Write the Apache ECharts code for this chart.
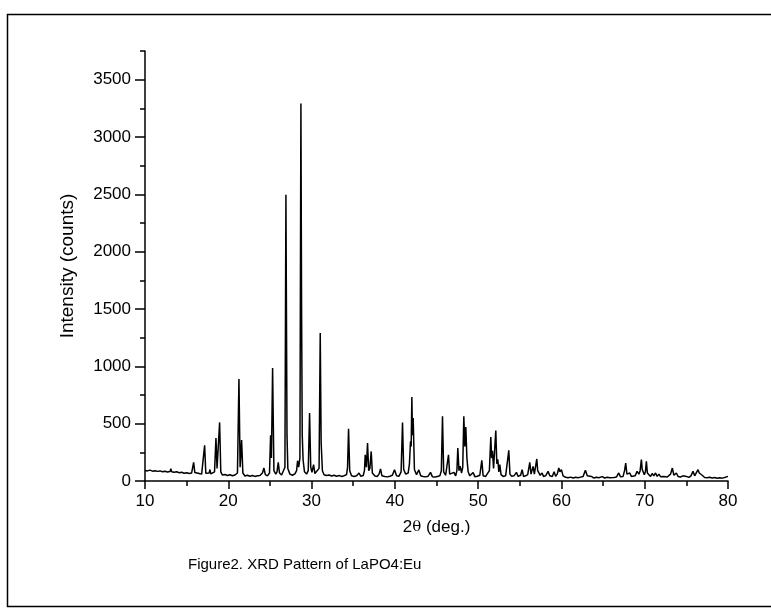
<!DOCTYPE html>
<html>
<head>
<meta charset="utf-8">
<script src="https://cdn.jsdelivr.net/npm/echarts@6/dist/echarts.min.js"></script>
<style>html,body{margin:0;padding:0;background:#fff}#c{width:771px;height:615px}</style>
</head>
<body>
<div id="c"></div>
<script>
// XRD pattern: [2theta (deg), intensity (counts)]
const xrdPattern = [
[10.0,92],[10.3,88],[10.6,95],[10.9,86],[11.2,90],[11.5,84],[11.8,88],[12.1,80],[12.4,85],[12.7,78],
[13.0,82],[13.1,108],[13.2,80],[13.5,76],[13.8,80],[14.1,72],[14.4,76],[14.7,68],[15.0,72],[15.3,66],
[15.6,70],[15.7,80],[15.84,163],[15.98,75],[16.2,62],[16.5,66],[16.8,60],[17.0,70],[17.16,311],[17.3,68],
[17.5,56],[17.7,70],[17.8,100],[17.9,62],[18.1,58],[18.35,80],[18.52,375],[18.65,110],[18.8,120],[18.96,511],
[19.1,80],[19.3,52],[19.6,56],[19.9,48],[20.2,54],[20.5,46],[20.8,52],[21.1,70],[21.28,889],[21.42,120],
[21.6,357],[21.75,70],[22.0,44],[22.3,50],[22.6,42],[22.9,48],[23.2,40],[23.5,46],[23.8,48],[24.1,70],
[24.28,113],[24.45,55],[24.7,45],[24.95,70],[25.08,398],[25.18,200],[25.32,985],[25.48,90],[25.7,60],[25.85,80],
[26.0,163],[26.15,70],[26.4,52],[26.6,58],[26.8,120],[26.92,2497],[27.05,400],[27.15,110],[27.4,60],[27.7,50],
[28.0,62],[28.2,90],[28.32,177],[28.45,120],[28.6,200],[28.72,3293],[28.8,1500],[28.88,400],[28.98,185],[29.15,80],
[29.4,60],[29.6,90],[29.76,593],[29.9,120],[30.05,75],[30.24,142],[30.4,65],[30.6,60],[30.9,110],[31.04,1291],
[31.15,334],[31.3,90],[31.5,55],[31.8,48],[32.1,52],[32.4,44],[32.7,50],[33.0,42],[33.3,48],[33.6,40],
[33.9,46],[34.2,56],[34.32,120],[34.44,456],[34.58,90],[34.8,45],[35.1,40],[35.4,46],[35.7,70],[35.9,42],
[36.2,48],[36.35,90],[36.44,229],[36.58,120],[36.72,331],[36.86,90],[37.0,110],[37.16,258],[37.3,70],[37.6,44],
[37.9,40],[38.1,60],[38.28,105],[38.45,45],[38.8,40],[39.1,36],[39.4,42],[39.7,50],[39.96,99],[40.2,45],
[40.5,42],[40.75,80],[40.92,511],[41.06,100],[41.3,60],[41.6,70],[41.75,150],[41.88,346],[41.96,300],[42.04,732],
[42.12,400],[42.2,549],[42.35,100],[42.6,55],[42.88,97],[43.1,45],[43.4,40],[43.7,36],[44.0,42],[44.28,75],
[44.5,38],[44.8,34],[45.1,40],[45.4,45],[45.58,90],[45.72,564],[45.86,80],[46.1,50],[46.3,60],[46.44,229],
[46.58,60],[46.8,45],[47.1,75],[47.3,45],[47.45,90],[47.56,288],[47.7,90],[47.84,130],[48.0,70],[48.15,120],
[48.28,564],[48.4,300],[48.52,471],[48.65,200],[48.8,80],[49.0,45],[49.2,40],[49.4,75],[49.6,38],[49.9,42],
[50.2,50],[50.44,180],[50.6,45],[50.9,40],[51.1,48],[51.35,90],[51.52,383],[51.62,200],[51.72,264],[51.85,110],
[52.0,120],[52.12,441],[52.24,150],[52.36,190],[52.48,80],[52.6,143],[52.75,55],[53.0,40],[53.3,45],[53.5,60],
[53.68,267],[53.82,60],[54.0,42],[54.3,45],[54.6,75],[54.8,40],[55.1,50],[55.28,99],[55.45,40],[55.7,45],
[55.95,55],[56.2,163],[56.35,60],[56.6,128],[56.75,60],[57.04,192],[57.15,90],[57.28,99],[57.45,50],[57.68,70],
[57.85,40],[58.1,45],[58.4,84],[58.6,45],[58.9,40],[59.12,80],[59.3,42],[59.5,60],[59.68,113],[59.82,80],
[60.0,99],[60.2,45],[60.5,32],[60.8,28],[61.1,34],[61.4,26],[61.7,32],[62.0,28],[62.3,34],[62.6,40],
[62.88,93],[63.1,45],[63.3,30],[63.6,40],[63.9,26],[64.2,32],[64.5,28],[64.9,38],[65.2,26],[65.5,32],
[65.8,28],[66.0,40],[66.3,30],[66.6,34],[66.88,70],[67.1,36],[67.4,40],[67.58,90],[67.72,157],[67.86,60],
[68.0,45],[68.2,70],[68.4,40],[68.6,55],[68.85,45],[69.08,84],[69.3,60],[69.45,90],[69.6,186],[69.7,100],
[69.8,113],[69.95,55],[70.08,80],[70.2,171],[70.32,70],[70.5,70],[70.7,40],[70.9,65],[71.1,45],[71.3,70],
[71.5,40],[71.7,60],[71.9,38],[72.1,55],[72.3,40],[72.5,50],[72.7,35],[72.9,45],[73.1,60],[73.32,113],
[73.5,50],[73.8,70],[74.0,40],[74.3,35],[74.6,45],[75.0,40],[75.3,32],[75.55,45],[75.8,84],[76.0,45],
[76.2,60],[76.4,99],[76.55,70],[76.7,84],[76.9,50],[77.2,30],[77.5,28],[77.8,32],[78.1,26],[78.4,30],
[78.7,24],[79.0,28],[79.3,25],[79.6,30],[79.9,38],[80.0,40]
];
const xTicks = [10,20,30,40,50,60,70,80];
const yMajorTicks = [0,500,1000,1500,2000,2500,3000,3500];
const xAxisTitle = '2{t|θ} (deg.)';
const yAxisTitle = 'Intensity (counts)';
const caption = 'Figure2. XRD Pattern of LaPO4:Eu';

const FONT = '"Liberation Sans", Arial, sans-serif';
const chart = echarts.init(document.getElementById('c'), null, {renderer:'canvas'});
chart.setOption({
  animation: false,
  backgroundColor: '#fff',
  title: {
    text: caption, left: 188, top: 557, padding: 0,
    textStyle: {fontFamily: FONT, fontSize: 15, fontWeight: 'normal', color: '#000'}
  },
  graphic: [{
    type: 'rect', left: 5, top: 12, silent: true,
    shape: {width: 775, height: 592},
    style: {fill: 'none', stroke: '#000', lineWidth: 1.5}
  }],
  grid: {left: 145, right: 43, top: 51, bottom: 134, containLabel: false},
  xAxis: {
    type: 'value', min: 10, max: 80, interval: 10,
    name: xAxisTitle, nameLocation: 'middle', nameGap: 38,
    nameTextStyle: {fontFamily: FONT, fontSize: 17, color: '#000',
      rich: {t: {fontFamily: '"DejaVu Serif", serif', fontSize: 15, color: '#000'}}},
    axisLine: {show: true, onZero: false, lineStyle: {color: '#000', width: 1.5}},
    axisTick: {show: true, length: 8, lineStyle: {color: '#000', width: 1.5}},
    minorTick: {show: true, splitNumber: 2, length: 5, lineStyle: {color: '#000', width: 1.5}},
    axisLabel: {fontFamily: FONT, fontSize: 17, color: '#000', margin: 12,
      customValues: xTicks, formatter: v => String(v)},
    splitLine: {show: false}
  },
  yAxis: [{
    type: 'value', min: 0, max: 3750, interval: 250,
    name: yAxisTitle, nameLocation: 'middle', nameGap: 68,
    nameTextStyle: {fontFamily: FONT, fontSize: 19, color: '#000'},
    axisLine: {show: true, onZero: false, lineStyle: {color: '#000', width: 1.5}},
    axisTick: {show: true, length: 5, lineStyle: {color: '#000', width: 1.5}},
    axisLabel: {show: true, fontFamily: FONT, fontSize: 17, color: '#000', margin: 14,
      customValues: yMajorTicks, formatter: v => String(v)},
    splitLine: {show: false}
  }, {
    type: 'value', min: 0, max: 3750, position: 'left', offset: 0,
    axisLine: {show: false},
    axisTick: {show: true, length: 10, customValues: yMajorTicks, lineStyle: {color: '#000', width: 1.5}},
    axisLabel: {show: false},
    splitLine: {show: false}
  }],
  series: [{
    type: 'line', data: xrdPattern, yAxisIndex: 0,
    showSymbol: false, symbol: 'none', smooth: false,
    lineStyle: {color: '#000', width: 1.5},
    silent: true
  }]
});
</script>
</body>
</html>
